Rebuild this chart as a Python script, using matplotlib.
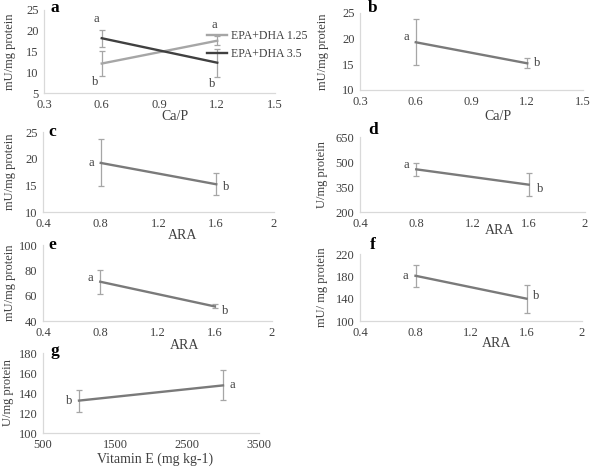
import matplotlib.pyplot as plt

plt.rcParams['font.family'] = ['Liberation Serif', 'DejaVu Serif']

W, H = 591, 469

# panel a: Ca/P x EPA+DHA
ca_p = [0.6, 1.2]
a_low = [12.1, 17.6]
a_low_err = [3.0, 1.1]
a_high = [18.2, 12.3]
a_high_err = [2.0, 3.4]

# panel b: Ca/P
b_val = [19.3, 15.2]
b_err = [4.5, 1.0]

# panels c-f: ARA
ara = [0.8, 1.6]
c_val = [19.2, 15.2]
c_err = [4.4, 2.1]
d_val = [456, 364]
d_err = [37, 70]
e_val = [71.0, 51.5]
e_err = [9.5, 1.6]
f_val = [181, 140]
f_err = [20, 25]

# panel g: vitamin E
vit_e = [1000, 3000]
g_val = [132.4, 147.6]
g_err = [11.0, 15.0]

LINE = '#7a7a7a'
ERR = '#a6a6a6'
SPINE = '#d9d9d9'


def make_ax(l, r, t, b):
    ax = plt.gcf().add_axes([l / W, 1 - b / H, (r - l) / W, (b - t) / H])
    for s in ['top', 'right']:
        ax.spines[s].set_visible(False)
    for s in ['left', 'bottom']:
        ax.spines[s].set_color(SPINE)
        ax.spines[s].set_linewidth(0.9)
    ax.tick_params(length=0, labelsize=9, colors='#404040', pad=4)
    return ax


def series(ax, x, y, err, color=LINE):
    ax.errorbar(x, y, yerr=err, color=color, ecolor=ERR, elinewidth=0.9,
                capsize=2.5, capthick=0.9, lw=1.7, zorder=3)


def letter(ax, x, y, s, dx, dy, ha='center', va='center'):
    ax.annotate(s, (x, y), xytext=(dx, dy), textcoords='offset points',
                ha=ha, va=va, fontsize=9, color='#404040')


def panel_tag(ax, s, xpx, ypx):
    plt.gcf().text(xpx / W, 1 - ypx / H, s, fontsize=12.5, fontweight='bold',
                   ha='center', va='center')


def xlab(ax, s, xpx, ypx, l, r, t, b):
    ax.set_xlabel(s, fontsize=10, color='#404040')
    ax.xaxis.set_label_coords((xpx - l) / (r - l), (b - ypx) / (b - t))
    ax.xaxis.label.set_va('center')


def ylab(ax, s, xpx, l, r):
    ax.set_ylabel(s, fontsize=9, color='#404040')
    ax.yaxis.set_label_coords((xpx - l) / (r - l), 0.5)
    ax.yaxis.label.set_va('center')


fig = plt.figure(figsize=(W / 100, H / 100), dpi=100)

# a
box = (44, 275, 10, 93)
ax = make_ax(*box)
ax.errorbar(ca_p, a_low, yerr=a_low_err, color='#a6a6a6', ecolor=ERR,
            elinewidth=0.9, capsize=2.5, capthick=0.9, lw=1.7,
            label='EPA+DHA 1.25', zorder=3)
ax.errorbar(ca_p, a_high, yerr=a_high_err, color='#404040', ecolor=ERR,
            elinewidth=0.9, capsize=2.5, capthick=0.9, lw=1.7,
            label='EPA+DHA 3.5', zorder=3)
ax.set_xlim(0.3, 1.5)
ax.set_xticks([0.3, 0.6, 0.9, 1.2, 1.5])
ax.set_ylim(5, 25)
ax.set_yticks([5, 10, 15, 20, 25])
letter(ax, 0.6, a_high[0] + a_high_err[0], 'a', -4, 8)
letter(ax, 0.6, a_low[0] - a_low_err[0], 'b', -5, -4)
letter(ax, 1.2, a_low[1] + a_low_err[1], 'a', -2, 8)
letter(ax, 1.2, a_high[1] - a_high_err[1], 'b', -4, -5)
h, lb = ax.get_legend_handles_labels()
leg = ax.legend([hh[0] for hh in h], lb, loc='center left',
                bbox_to_anchor=(0.66, 0.58), frameon=False, fontsize=8.5,
                handlelength=1.7, handletextpad=0.3, labelspacing=0.5)
for t in leg.get_texts():
    t.set_color('#404040')
xlab(ax, 'Ca/P', 175, 117, *box)
ylab(ax, 'mU/mg protein', 10, box[0], box[1])
panel_tag(ax, 'a', 55, 8)

# b
box = (360, 583, 13, 90)
ax = make_ax(*box)
series(ax, ca_p, b_val, b_err)
ax.set_xlim(0.3, 1.5)
ax.set_xticks([0.3, 0.6, 0.9, 1.2, 1.5])
ax.set_ylim(10, 25)
ax.set_yticks([10, 15, 20, 25])
letter(ax, 0.6, b_val[0], 'a', -5, 4, ha='right')
letter(ax, 1.2, b_val[1], 'b', 5, 0, ha='left')
xlab(ax, 'Ca/P', 498, 116, *box)
ylab(ax, 'mU/mg protein', 323, box[0], box[1])
panel_tag(ax, 'b', 373, 8)

# c
box = (43, 274, 132, 212)
ax = make_ax(*box)
series(ax, ara, c_val, c_err)
ax.set_xlim(0.4, 2)
ax.set_xticks([0.4, 0.8, 1.2, 1.6, 2])
ax.set_xticklabels(['0.4', '0.8', '1.2', '1.6', '2'])
ax.set_ylim(10, 25)
ax.set_yticks([10, 15, 20, 25])
letter(ax, 0.8, c_val[0], 'a', -5, 0, ha='right')
letter(ax, 1.6, c_val[1], 'b', 5, -2, ha='left')
xlab(ax, 'ARA', 183, 235, *box)
ylab(ax, 'mU/mg protein', 10, box[0], box[1])
panel_tag(ax, 'c', 52, 132)

# d
box = (360, 585, 137, 212)
ax = make_ax(*box)
series(ax, ara, d_val, d_err)
ax.set_xlim(0.4, 2)
ax.set_xticks([0.4, 0.8, 1.2, 1.6, 2])
ax.set_xticklabels(['0.4', '0.8', '1.2', '1.6', '2'])
ax.set_ylim(200, 650)
ax.set_yticks([200, 350, 500, 650])
letter(ax, 0.8, d_val[0], 'a', -5, 3, ha='right')
letter(ax, 1.6, d_val[1], 'b', 6, -3, ha='left')
xlab(ax, 'ARA', 500, 230, *box)
ylab(ax, 'U/mg protein', 322, box[0], box[1])
panel_tag(ax, 'd', 373, 130)

# e
box = (43, 272, 245, 321)
ax = make_ax(*box)
series(ax, ara, e_val, e_err)
ax.set_xlim(0.4, 2)
ax.set_xticks([0.4, 0.8, 1.2, 1.6, 2])
ax.set_xticklabels(['0.4', '0.8', '1.2', '1.6', '2'])
ax.set_ylim(40, 100)
ax.set_yticks([40, 60, 80, 100])
letter(ax, 0.8, e_val[0], 'a', -5, 3, ha='right')
letter(ax, 1.6, e_val[1], 'b', 5, -3, ha='left')
xlab(ax, 'ARA', 185, 345, *box)
ylab(ax, 'mU/mg protein', 10, box[0], box[1])
panel_tag(ax, 'e', 52, 245)

# f
box = (360, 582, 254, 321)
ax = make_ax(*box)
series(ax, ara, f_val, f_err)
ax.set_xlim(0.4, 2)
ax.set_xticks([0.4, 0.8, 1.2, 1.6, 2])
ax.set_xticklabels(['0.4', '0.8', '1.2', '1.6', '2'])
ax.set_ylim(100, 220)
ax.set_yticks([100, 140, 180, 220])
letter(ax, 0.8, f_val[0], 'a', -5, 0, ha='right')
letter(ax, 1.6, f_val[1], 'b', 5, 2, ha='left')
xlab(ax, 'ARA', 497, 343, *box)
ylab(ax, 'mU/ mg protein', 322, box[0], box[1])
panel_tag(ax, 'f', 373, 245)

# g
box = (43, 259, 353, 433)
ax = make_ax(*box)
series(ax, vit_e, g_val, g_err)
ax.set_xlim(500, 3500)
ax.set_xticks([500, 1500, 2500, 3500])
ax.set_ylim(100, 180)
ax.set_yticks([100, 120, 140, 160, 180])
letter(ax, 1000, g_val[0], 'b', -5, 0, ha='right')
letter(ax, 3000, g_val[1], 'a', 5, 0, ha='left')
xlab(ax, 'Vitamin E (mg kg-1)', 155, 459, *box)
ylab(ax, 'U/mg protein', 8, box[0], box[1])
panel_tag(ax, 'g', 55, 351)

plt.savefig('out.png', dpi=100)
plt.close(fig)
